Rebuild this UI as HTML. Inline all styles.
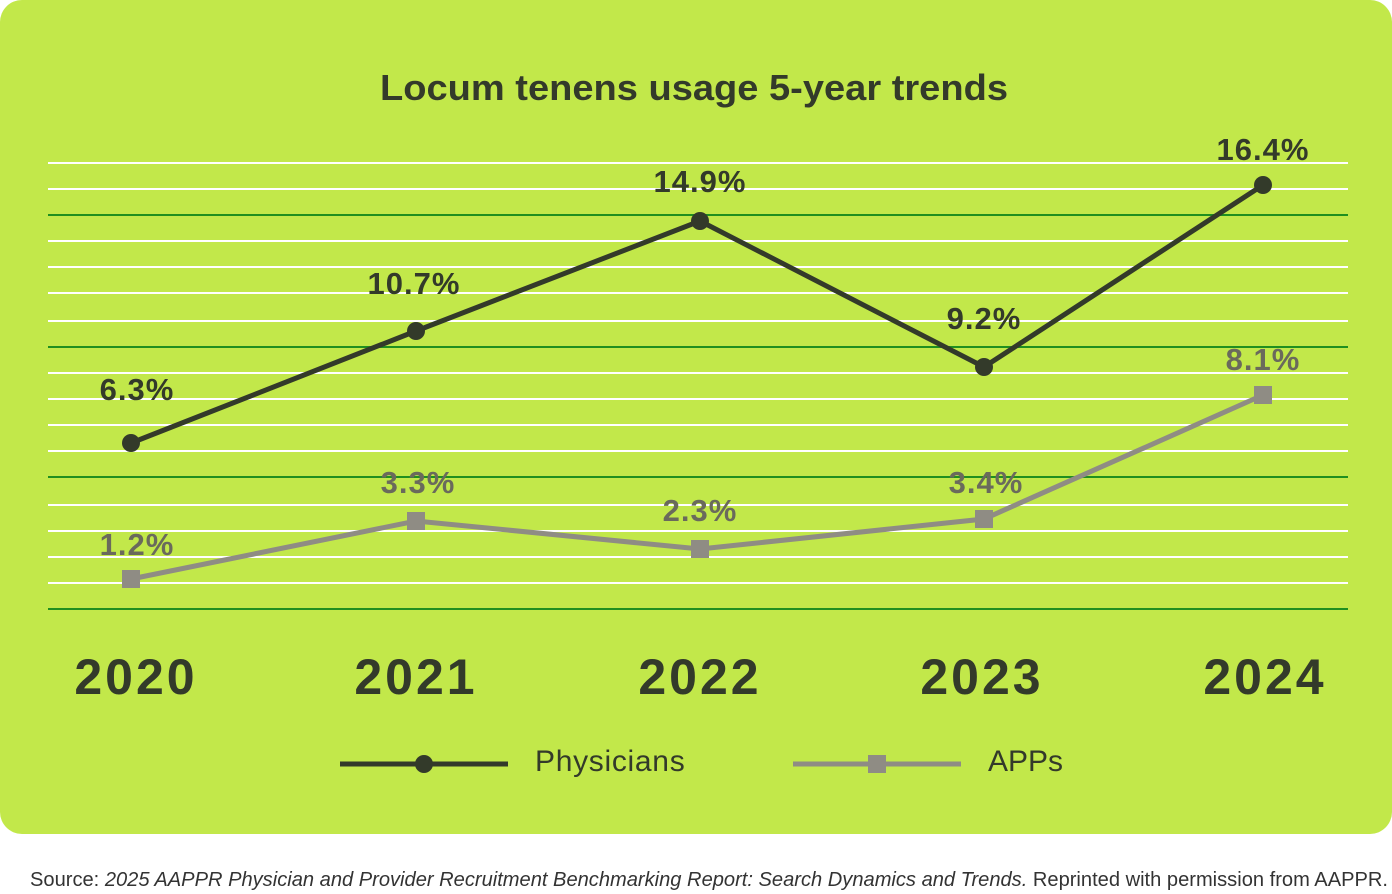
<!DOCTYPE html>
<html><head><style>
body{margin:0;width:1392px;height:894px;background:#fff;font-family:"Liberation Sans",sans-serif;overflow:hidden}
</style></head><body>
<svg width="1392" height="894" xmlns="http://www.w3.org/2000/svg" style="position:absolute;left:0;top:0">
<rect x="0" y="0" width="1392" height="834" rx="22" fill="#c2e84a"/>
<text x="694" y="100" text-anchor="middle" font-family="Liberation Sans, sans-serif" font-size="36" font-weight="bold" fill="#333a2a" textLength="628" lengthAdjust="spacingAndGlyphs">Locum tenens usage 5-year trends</text>
<g stroke-width="2">
<line x1="48" x2="1348" y1="163" y2="163" stroke="#fff"/>
<line x1="48" x2="1348" y1="189" y2="189" stroke="#fff"/>
<line x1="48" x2="1348" y1="215" y2="215" stroke="#1f8f1f"/>
<line x1="48" x2="1348" y1="241" y2="241" stroke="#fff"/>
<line x1="48" x2="1348" y1="267" y2="267" stroke="#fff"/>
<line x1="48" x2="1348" y1="293" y2="293" stroke="#fff"/>
<line x1="48" x2="1348" y1="321" y2="321" stroke="#fff"/>
<line x1="48" x2="1348" y1="347" y2="347" stroke="#1f8f1f"/>
<line x1="48" x2="1348" y1="373" y2="373" stroke="#fff"/>
<line x1="48" x2="1348" y1="399" y2="399" stroke="#fff"/>
<line x1="48" x2="1348" y1="425" y2="425" stroke="#fff"/>
<line x1="48" x2="1348" y1="451" y2="451" stroke="#fff"/>
<line x1="48" x2="1348" y1="477" y2="477" stroke="#1f8f1f"/>
<line x1="48" x2="1348" y1="505" y2="505" stroke="#fff"/>
<line x1="48" x2="1348" y1="531" y2="531" stroke="#fff"/>
<line x1="48" x2="1348" y1="557" y2="557" stroke="#fff"/>
<line x1="48" x2="1348" y1="583" y2="583" stroke="#fff"/>
<line x1="48" x2="1348" y1="609" y2="609" stroke="#1f8f1f"/>
</g>
<polyline points="131,579 416,521 700,549 984,519 1263,395" fill="none" stroke="#8f8c84" stroke-width="5"/>
<g fill="#8f8c84">
<rect x="122" y="570" width="18" height="18"/><rect x="407" y="512" width="18" height="18"/><rect x="691" y="540" width="18" height="18"/><rect x="975" y="510" width="18" height="18"/><rect x="1254" y="386" width="18" height="18"/>
</g>
<polyline points="131,443 416,331 700,221 984,367 1263,185" fill="none" stroke="#333a2a" stroke-width="5"/>
<g fill="#333a2a">
<circle cx="131" cy="443" r="9"/><circle cx="416" cy="331" r="9"/><circle cx="700" cy="221" r="9"/><circle cx="984" cy="367" r="9"/><circle cx="1263" cy="185" r="9"/>
</g>
<g font-family="Liberation Sans, sans-serif" font-size="31" font-weight="bold" text-anchor="middle" fill="#333a2a" letter-spacing="1">
<text x="137" y="400">6.3%</text><text x="414" y="294">10.7%</text><text x="700" y="192">14.9%</text><text x="984" y="329">9.2%</text><text x="1263" y="160">16.4%</text>
</g>
<g font-family="Liberation Sans, sans-serif" font-size="31" font-weight="bold" text-anchor="middle" fill="#6a6a5c" letter-spacing="1">
<text x="137" y="555">1.2%</text><text x="418" y="493">3.3%</text><text x="700" y="521">2.3%</text><text x="986" y="493">3.4%</text><text x="1263" y="370">8.1%</text>
</g>
<g font-family="Liberation Sans, sans-serif" font-size="50" font-weight="bold" text-anchor="middle" fill="#333a2a" letter-spacing="3">
<text x="136" y="694">2020</text><text x="416" y="694">2021</text><text x="700" y="694">2022</text><text x="982" y="694">2023</text><text x="1265" y="694">2024</text>
</g>
<line x1="340" x2="508" y1="764" y2="764" stroke="#333a2a" stroke-width="5"/>
<circle cx="424" cy="764" r="9" fill="#333a2a"/>
<text x="535" y="771" font-family="Liberation Sans, sans-serif" font-size="30" fill="#333a2a" letter-spacing="0.7">Physicians</text>
<line x1="793" x2="961" y1="764" y2="764" stroke="#8f8c84" stroke-width="5"/>
<rect x="868" y="755" width="18" height="18" fill="#8f8c84"/>
<text x="988" y="771" font-family="Liberation Sans, sans-serif" font-size="30" fill="#333a2a">APPs</text>
<text x="30" y="886" font-family="Liberation Sans, sans-serif" font-size="20" fill="#333" textLength="1358" lengthAdjust="spacingAndGlyphs">Source: <tspan font-style="italic">2025 AAPPR Physician and Provider Recruitment Benchmarking Report: Search Dynamics and Trends.</tspan> Reprinted with permission from AAPPR.</text>
</svg>
</body></html>
